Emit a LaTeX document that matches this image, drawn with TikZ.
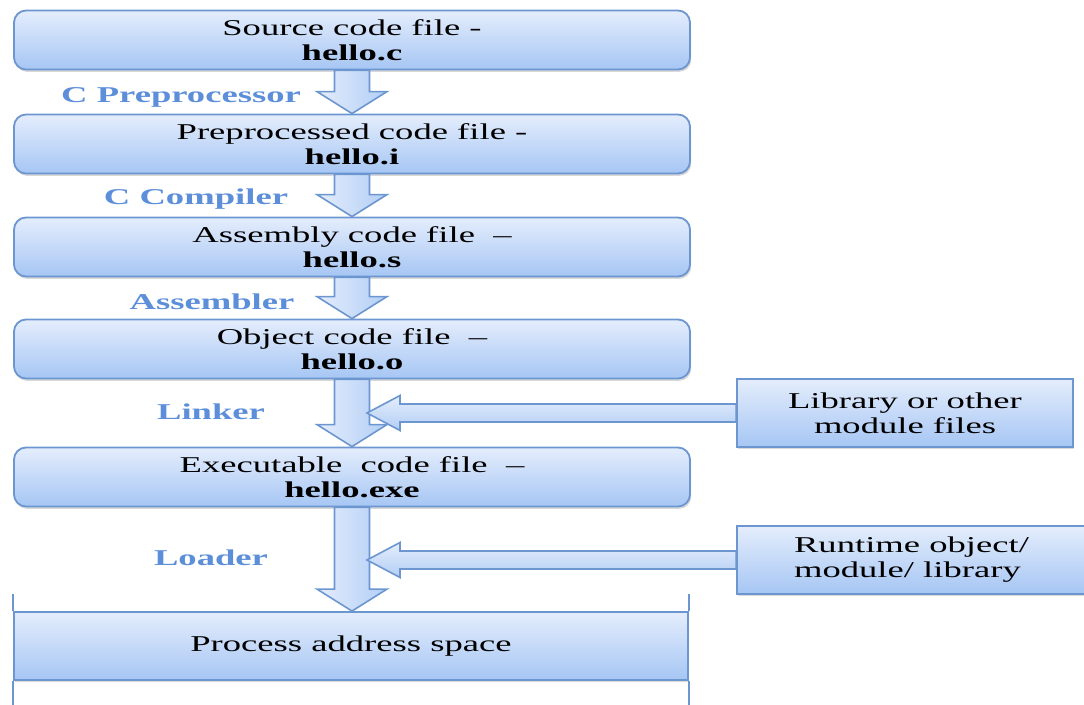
\documentclass[tikz,border=0pt]{standalone}
\usepackage{fontspec}
\setmainfont{Liberation Serif}[FakeStretch=1.62]
\usetikzlibrary{calc,shadows}
\definecolor{boxtop}{RGB}{228,237,252}
\definecolor{boxbot}{RGB}{166,198,244}
\definecolor{boxline}{RGB}{108,150,208}
\definecolor{labelblue}{RGB}{92,142,218}

\begin{document}
\begin{tikzpicture}[
				x=0.5pt, y=-0.5pt,
				every node/.style={font=\fontsize{11.3}{12.5}\selectfont},
				filebox/.style={draw=boxline, line width=0.9pt, rounded corners=6pt, top color=boxtop, bottom color=boxbot,
					minimum width=338pt, minimum height=29.5pt, inner sep=0pt, align=center,
					drop shadow={shadow xshift=0.6pt, shadow yshift=-1.2pt, opacity=0.3}},
				sidebox/.style={filebox, rounded corners=0pt, minimum width=168pt, minimum height=34pt},
				steplabel/.style={text=labelblue, font=\fontsize{11.3}{12.5}\selectfont\bfseries},
				flowdown/.style={draw=boxline, line width=0.8pt, left color=boxtop, right color=boxbot!80!boxtop},
				flowside/.style={draw=boxline, line width=0.8pt, top color=boxtop, bottom color=boxbot!80!boxtop},
			]
			\useasboundingbox (0,0) rectangle (1084,705);
			\node[filebox] (src) at (352,40) {Source code file -\\\textbf{hello.c}};
			\node[filebox] (pre) at (352,144) {Preprocessed code file -\\\textbf{hello.i}};
			\node[filebox] (asm) at (352,247) {Assembly code file ~–\\\textbf{hello.s}};
			\node[filebox] (obj) at (352,349) {Object code file ~–\\\textbf{hello.o}};
			\node[filebox] (exe) at (352,477) {Executable ~code file ~–\\\textbf{hello.exe}};
			\node[filebox, rounded corners=0pt, minimum width=337pt, minimum height=34pt] (proc) at (351,646) {Process address space};
			\node[sidebox] (lib) at (905,413) {Library or other\\module files};
			\node[sidebox, minimum width=174.5pt, align=left] (rtm) at (911.5,560) {Runtime object/\\module/ library};
			\node[steplabel] (cpp) at (181,97) {C Preprocessor};
			\node[steplabel] (cc) at (196,199) {C Compiler};
			\node[steplabel] (as) at (212,302) {Assembler};
			\node[steplabel] (ld) at (211,412) {Linker};
			\node[steplabel] (load) at (211,558) {Loader};
			\foreach \a/\b in {src/pre, pre/asm, asm/obj, obj/exe, exe/proc}
				\path[flowdown] let \p1=(\a.south), \p2=(\b.north) in
					(\x1-8.75pt,\y1) -- (\x1-8.75pt,\y2+11pt) -- (\x1-17.5pt,\y2+11pt) -- (\x1,\y2)
					-- (\x1+17.5pt,\y2+11pt) -- (\x1+8.75pt,\y2+11pt) -- (\x1+8.75pt,\y1) -- cycle;
			\coordinate (linkin) at (367,413);
			\coordinate (loadin) at (367,560);
			\foreach \s/\t in {lib/linkin, rtm/loadin}
				\path[flowside] let \p1=(\s.west), \p2=(\t) in
					(\x1,\y1+4.5pt) -- (\x2+16.5pt,\y1+4.5pt) -- (\x2+16.5pt,\y1+8.75pt) -- (\x2,\y1)
					-- (\x2+16.5pt,\y1-8.75pt) -- (\x2+16.5pt,\y1-4.5pt) -- (\x1,\y1-4.5pt) -- cycle;
			\draw[boxline, line width=0.9pt] (proc.north west) -- +(0,-17) (proc.south west) -- +(0,26)
				(proc.north east) -- +(0,-17) (proc.south east) -- +(0,26);
			\end{tikzpicture}
\end{document}
